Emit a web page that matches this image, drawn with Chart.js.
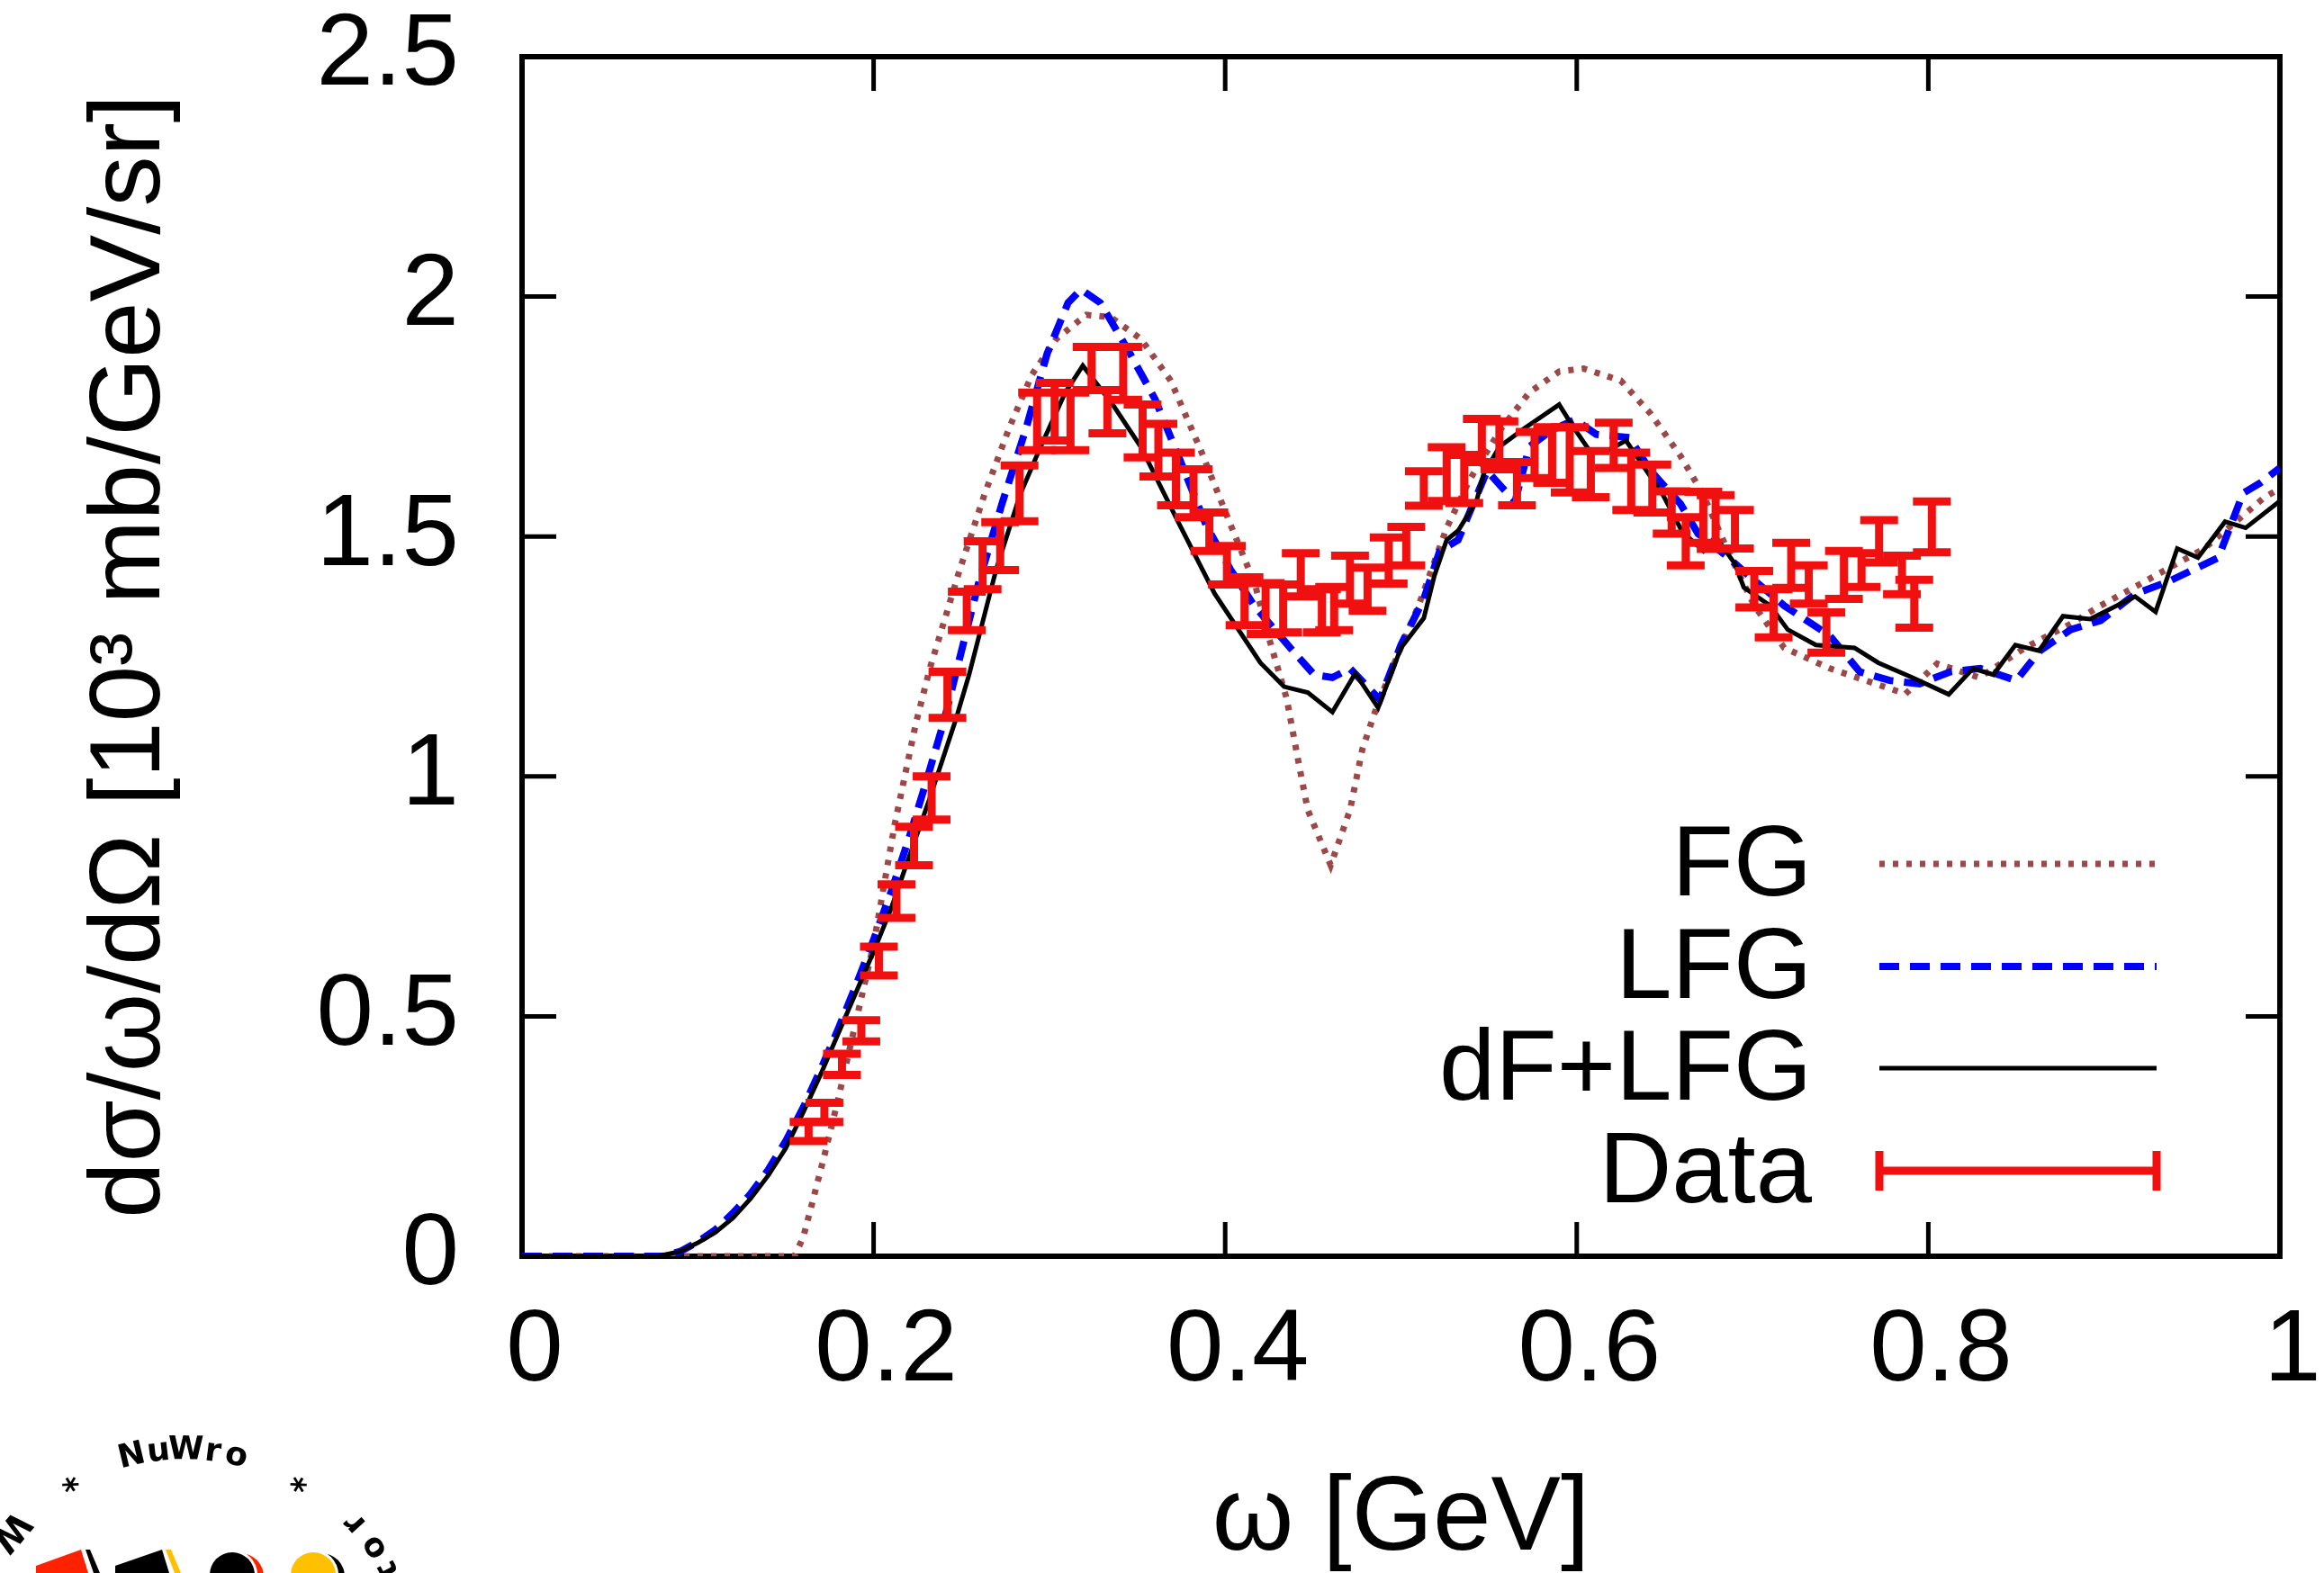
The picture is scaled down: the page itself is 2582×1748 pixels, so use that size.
<!DOCTYPE html>
<html>
<head>
<meta charset="utf-8">
<title>dσ/ω/dΩ versus ω</title>
<script src="https://cdn.jsdelivr.net/npm/chart.js@4.4.1/dist/chart.umd.min.js"></script>
<style>
    html, body { margin: 0; padding: 0; background: #fff; }
    #wrap { width: 2582px; height: 1748px; position: relative; }
</style>
</head>
<body>
<div id="wrap"><canvas id="spectrumChart"></canvas></div>
<script>
// Axis ticks
const xTickValues = [0, 0.2, 0.4, 0.6, 0.8, 1];
const xTickLabels = ['0', '0.2', '0.4', '0.6', '0.8', '1'];
const yTickValues = [0, 0.5, 1, 1.5, 2, 2.5];
const yTickLabels = ['0', '0.5', '1', '1.5', '2', '2.5'];

// FG curve
const fgX = [0, 0.155, 0.16, 0.165, 0.172, 0.18, 0.19, 0.2, 0.212, 0.224, 0.232, 0.249, 0.263, 0.277, 0.29,
    0.304, 0.321, 0.335, 0.352, 0.369, 0.386, 0.403, 0.417, 0.425, 0.435, 0.442, 0.447, 0.46, 0.471, 0.478,
    0.486, 0.497, 0.51, 0.526, 0.539, 0.557, 0.573, 0.59, 0.604, 0.625, 0.642, 0.659, 0.672, 0.686, 0.701,
    0.718, 0.744, 0.77, 0.787, 0.805, 0.829, 0.855, 0.881, 0.898, 0.92, 0.957, 0.991, 1.0];
const fgY = [0, 0, 0.04, 0.11, 0.21, 0.33, 0.49, 0.65, 0.9, 1.11, 1.225, 1.431, 1.587, 1.725, 1.837,
    1.912, 1.962, 1.957, 1.912, 1.825, 1.681, 1.525, 1.4, 1.287, 1.162, 1.024, 0.93, 0.815, 0.93, 1.056,
    1.143, 1.243, 1.356, 1.518, 1.618, 1.725, 1.8, 1.844, 1.85, 1.825, 1.756, 1.668, 1.587, 1.47, 1.356,
    1.268, 1.225, 1.193, 1.172, 1.235, 1.206, 1.268, 1.318, 1.356, 1.4, 1.475, 1.581, 1.6];

// LFG curve
const lfgX = [0, 0.08, 0.09, 0.1, 0.11, 0.12, 0.13, 0.14, 0.15, 0.16, 0.17, 0.18, 0.19, 0.2, 0.21, 0.22,
    0.23, 0.24, 0.2475, 0.2595, 0.273, 0.2867, 0.2987, 0.3106, 0.318, 0.329, 0.345, 0.36, 0.374, 0.389,
    0.403, 0.4165, 0.437, 0.4506, 0.461, 0.471, 0.488, 0.5, 0.513, 0.522, 0.5325, 0.549, 0.558, 0.565,
    0.573, 0.585, 0.599, 0.611, 0.63, 0.642, 0.659, 0.669, 0.685, 0.698, 0.718, 0.744, 0.761, 0.778,
    0.795, 0.8125, 0.8295, 0.85, 0.8635, 0.881, 0.898, 0.918, 0.9365, 0.965, 0.979, 0.989, 1.0];
const lfgY = [0, 0, 0.01, 0.03, 0.055, 0.09, 0.13, 0.18, 0.24, 0.31, 0.39, 0.475, 0.565, 0.66, 0.76, 0.87,
    0.99, 1.115, 1.225, 1.4, 1.568, 1.725, 1.881, 1.987, 2.015, 1.987, 1.887, 1.787, 1.662, 1.525,
    1.431, 1.356, 1.268, 1.212, 1.206, 1.225, 1.16, 1.274, 1.37, 1.469, 1.493, 1.637, 1.6, 1.574,
    1.687, 1.72, 1.744, 1.713, 1.706, 1.637, 1.568, 1.506, 1.46, 1.418, 1.356, 1.293, 1.218, 1.2,
    1.193, 1.218, 1.225, 1.2, 1.262, 1.306, 1.325, 1.381, 1.406, 1.456, 1.59, 1.612, 1.643];

// dF+LFG curve
const dfX = [0, 0.077, 0.09, 0.1, 0.11, 0.12, 0.13, 0.14, 0.15, 0.16, 0.17, 0.18, 0.19, 0.2, 0.21, 0.22,
    0.232, 0.2467, 0.2543, 0.2697, 0.2833, 0.295, 0.309, 0.319, 0.336, 0.352, 0.374, 0.394, 0.42, 0.4335,
    0.447, 0.461, 0.474, 0.487, 0.5, 0.513, 0.519, 0.526, 0.5325, 0.543, 0.547, 0.556, 0.57, 0.59, 0.5975,
    0.608, 0.618, 0.628, 0.649, 0.66, 0.672, 0.679, 0.69, 0.695, 0.71, 0.72, 0.736, 0.758, 0.7715, 0.791,
    0.8116, 0.8254, 0.837, 0.8495, 0.863, 0.8766, 0.892, 0.9176, 0.9293, 0.9416, 0.9534, 0.9688, 0.9805, 1.0];
const dfY = [0, 0, 0.01, 0.028, 0.05, 0.08, 0.12, 0.168, 0.225, 0.3, 0.38, 0.465, 0.55, 0.635, 0.725, 0.83,
    0.955, 1.118, 1.212, 1.431, 1.587, 1.687, 1.8, 1.856, 1.775, 1.687, 1.525, 1.381, 1.237, 1.187,
    1.175, 1.134, 1.215, 1.143, 1.268, 1.33, 1.418, 1.493, 1.512, 1.574, 1.63, 1.687, 1.725, 1.775, 1.731,
    1.675, 1.68, 1.7, 1.587, 1.51, 1.47, 1.5, 1.443, 1.394, 1.356, 1.306, 1.274, 1.268, 1.237, 1.206,
    1.171, 1.225, 1.212, 1.274, 1.262, 1.334, 1.328, 1.375, 1.343, 1.475, 1.456, 1.531, 1.518, 1.574];

// Measured data with errors
const dataX = [0.163, 0.172, 0.182, 0.193, 0.203, 0.213, 0.223, 0.233, 0.242, 0.253, 0.262, 0.272, 0.283,
    0.293, 0.303, 0.312, 0.324, 0.333, 0.342, 0.353, 0.362, 0.372, 0.382, 0.391, 0.401, 0.411, 0.423,
    0.433, 0.443, 0.455, 0.462, 0.471, 0.481, 0.493, 0.503, 0.513, 0.526, 0.536, 0.546, 0.556, 0.566,
    0.576, 0.586, 0.596, 0.608, 0.621, 0.631, 0.643, 0.654, 0.662, 0.672, 0.679, 0.69, 0.701, 0.712,
    0.722, 0.732, 0.742, 0.752, 0.762, 0.772, 0.785, 0.792, 0.802];
const dataY = [0.26, 0.3, 0.4, 0.47, 0.615, 0.74, 0.855, 0.955, 1.17, 1.345, 1.44, 1.48, 1.59,
    1.74, 1.76, 1.74, 1.85, 1.76, 1.84, 1.72, 1.68, 1.62, 1.59, 1.51, 1.44, 1.365, 1.35,
    1.35, 1.42, 1.345, 1.35, 1.41, 1.39, 1.45, 1.48, 1.6, 1.63, 1.62, 1.7, 1.69, 1.61,
    1.67, 1.67, 1.66, 1.63, 1.69, 1.615, 1.6, 1.55, 1.49, 1.54, 1.53, 1.515, 1.39, 1.34,
    1.44, 1.4, 1.3, 1.42, 1.43, 1.49, 1.42, 1.36, 1.52];
const dataErr = [0.02, 0.02, 0.022, 0.022, 0.03, 0.035, 0.04, 0.045, 0.048, 0.04, 0.05, 0.05, 0.058,
    0.06, 0.06, 0.06, 0.045, 0.045, 0.055, 0.055, 0.055, 0.055, 0.05, 0.04, 0.04, 0.05, 0.053,
    0.05, 0.045, 0.045, 0.045, 0.05, 0.045, 0.048, 0.04, 0.036, 0.056, 0.05, 0.045, 0.05, 0.045,
    0.048, 0.058, 0.068, 0.048, 0.047, 0.06, 0.05, 0.044, 0.05, 0.053, 0.056, 0.04, 0.038, 0.05,
    0.047, 0.04, 0.042, 0.05, 0.035, 0.044, 0.04, 0.05, 0.053];

const FONT = '"Liberation Sans", Arial, Helvetica, sans-serif';
const TICK_LEN = 38;
const CAP_HALF = 21;

function toPoints(xs, ys) {
    return xs.map((x, i) => ({ x: x, y: ys[i] }));
}

// Border box and inward ticks on all four sides, like gnuplot
const framePlugin = {
    id: 'frame',
    beforeDatasetsDraw(chart) {
        const { ctx, chartArea: a, scales: { x, y } } = chart;
        ctx.save();
        ctx.strokeStyle = '#000';
        ctx.lineWidth = 5;
        ctx.beginPath();
        xTickValues.slice(1, -1).forEach(v => {
            const px = x.getPixelForValue(v);
            ctx.moveTo(px, a.bottom); ctx.lineTo(px, a.bottom - TICK_LEN);
            ctx.moveTo(px, a.top); ctx.lineTo(px, a.top + TICK_LEN);
        });
        yTickValues.slice(1, -1).forEach(v => {
            const py = y.getPixelForValue(v);
            ctx.moveTo(a.left, py); ctx.lineTo(a.left + TICK_LEN, py);
            ctx.moveTo(a.right, py); ctx.lineTo(a.right - TICK_LEN, py);
        });
        ctx.stroke();
        ctx.lineWidth = 6;
        ctx.strokeRect(a.left, a.top, a.right - a.left, a.bottom - a.top);
        ctx.restore();
    }
};

// Vertical error bars with caps
const errorBarPlugin = {
    id: 'errorBars',
    afterDatasetsDraw(chart) {
        const { ctx, chartArea: a, scales: { x, y } } = chart;
        chart.data.datasets.forEach(ds => {
            if (!ds.errors) return;
            ctx.save();
            ctx.beginPath();
            ctx.rect(a.left, a.top, a.right - a.left, a.bottom - a.top);
            ctx.clip();
            ctx.strokeStyle = ds.borderColor;
            ctx.lineWidth = ds.borderWidth;
            ds.data.forEach((p, j) => {
                const px = x.getPixelForValue(p.x);
                const lo = y.getPixelForValue(p.y - ds.errors[j]);
                const hi = y.getPixelForValue(p.y + ds.errors[j]);
                ctx.beginPath();
                ctx.moveTo(px, lo); ctx.lineTo(px, hi);
                ctx.moveTo(px - CAP_HALF, lo); ctx.lineTo(px + CAP_HALF, lo);
                ctx.moveTo(px - CAP_HALF, hi); ctx.lineTo(px + CAP_HALF, hi);
                ctx.stroke();
            });
            ctx.restore();
        });
    }
};

// Key in the lower right corner of the plot
const keyPlugin = {
    id: 'key',
    afterDraw(chart) {
        const { ctx, chartArea: a } = chart;
        const textRight = a.right - 520;
        const x0 = a.right - 445;
        const x1 = a.right - 137;
        const rowsY = [a.bottom - 436, a.bottom - 322, a.bottom - 209, a.bottom - 95];
        ctx.save();
        ctx.font = '112px ' + FONT;
        ctx.fillStyle = '#000';
        ctx.textAlign = 'right';
        ctx.textBaseline = 'middle';
        chart.data.datasets.slice().reverse().forEach((ds, i) => {
            const yy = rowsY[i];
            ctx.fillText(ds.label, textRight, yy + 4);
            ctx.strokeStyle = ds.borderColor;
            ctx.lineWidth = ds.borderWidth;
            ctx.setLineDash(ds.borderDash || []);
            ctx.beginPath();
            ctx.moveTo(x0, yy); ctx.lineTo(x1, yy);
            ctx.stroke();
            ctx.setLineDash([]);
            if (ds.errors) {
                ctx.beginPath();
                ctx.moveTo(x0, yy - 22); ctx.lineTo(x0, yy + 22);
                ctx.moveTo(x1, yy - 22); ctx.lineTo(x1, yy + 22);
                ctx.stroke();
            }
        });
        ctx.restore();
    }
};

// NuWro badge in the lower left corner
function arcGlyph(ctx, ch, cx, cy, r, deg, inward) {
    const t = deg * Math.PI / 180;
    ctx.save();
    ctx.translate(cx + r * Math.sin(t), cy - r * Math.cos(t));
    ctx.rotate(inward ? t + Math.PI : t);
    ctx.fillText(ch, 0, 0);
    ctx.restore();
}

const badgePlugin = {
    id: 'badge',
    afterDraw(chart) {
        const ctx = chart.ctx;
        const cx = 205, cy = 1864;
        ctx.save();
        ctx.fillStyle = '#000';
        ctx.font = 'bold 36px "DejaVu Sans"';
        ctx.textAlign = 'center';
        ctx.textBaseline = 'middle';
        const top = 'NuWro';
        const step = [-13.4, -6.6, 0.4, 7.2, 13.2];
        for (let i = 0; i < top.length; i++) {
            arcGlyph(ctx, top[i], cx, cy, 252, step[i], false);
        }
        arcGlyph(ctx, '*', cx, cy, 240, -30.6, false);
        arcGlyph(ctx, '*', cx, cy, 240, 30.6, false);
        ctx.font = 'bold 40px "DejaVu Sans"';
        arcGlyph(ctx, 'W', cx, cy, 254, -50, true);
        ctx.font = 'bold 36px "DejaVu Sans"';
        arcGlyph(ctx, 'r', cx, cy, 256, 47.9, true);
        arcGlyph(ctx, 'o', cx, cy, 256, 55.6, true);
        arcGlyph(ctx, 't', cx, cy, 256, 62.2, true);

        // coloured pieces peeking over the bottom edge
        const poly = (pts, color) => {
            ctx.fillStyle = color;
            ctx.beginPath();
            ctx.moveTo(pts[0][0], pts[0][1]);
            pts.slice(1).forEach(p => ctx.lineTo(p[0], p[1]));
            ctx.closePath();
            ctx.fill();
        };
        poly([[40, 1740], [90, 1722], [98, 1748], [40, 1748]], '#ff2200');
        poly([[95, 1722], [100, 1722], [111, 1748], [104, 1748]], '#000');
        poly([[128, 1740], [180, 1722], [188, 1748], [128, 1748]], '#000');
        poly([[184, 1722], [190, 1722], [201, 1748], [194, 1748]], '#ffc000');
        const disc = (x, y, r, color) => {
            ctx.fillStyle = color;
            ctx.beginPath();
            ctx.arc(x, y, r, 0, Math.PI * 2);
            ctx.fill();
        };
        disc(267, 1752, 26, '#ff2200');
        disc(258, 1750, 28, '#fff');
        disc(258, 1750, 25, '#000');
        disc(357, 1752, 26, '#000');
        disc(348, 1750, 28, '#fff');
        disc(348, 1750, 25, '#ffc000');
        ctx.restore();
    }
};

document.addEventListener('DOMContentLoaded', function() {
    const ctx = document.getElementById('spectrumChart').getContext('2d');

    new Chart(ctx, {
        type: 'scatter',
        data: {
            datasets: [
                {
                    label: 'Data',
                    data: toPoints(dataX, dataY),
                    errors: dataErr,
                    borderColor: '#f01010',
                    borderWidth: 9,
                    showLine: false,
                    pointRadius: 0,
                    order: 0
                },
                {
                    label: 'dF+LFG',
                    data: toPoints(dfX, dfY),
                    borderColor: '#000000',
                    borderWidth: 5,
                    showLine: true,
                    pointRadius: 0,
                    tension: 0,
                    order: 1
                },
                {
                    label: 'LFG',
                    data: toPoints(lfgX, lfgY),
                    borderColor: '#0000ff',
                    borderWidth: 8,
                    borderDash: [22, 12],
                    showLine: true,
                    pointRadius: 0,
                    tension: 0,
                    order: 2
                },
                {
                    label: 'FG',
                    data: toPoints(fgX, fgY),
                    borderColor: '#9c4848',
                    borderWidth: 7,
                    borderDash: [6, 9],
                    showLine: true,
                    pointRadius: 0,
                    tension: 0,
                    order: 3
                }
            ]
        },
        options: {
            responsive: true,
            maintainAspectRatio: false,
            devicePixelRatio: 1,
            animation: false,
            events: [],
            layout: { padding: { left: 0, right: 49, top: 63, bottom: 0 } },
            plugins: {
                legend: { display: false },
                tooltip: { enabled: false }
            },
            scales: {
                x: {
                    type: 'linear',
                    min: 0,
                    max: 1,
                    afterBuildTicks: scale => { scale.ticks = xTickValues.map(v => ({ value: v })); },
                    afterFit: scale => { scale.height = 352; },
                    // invisible tick marks only set the gap between axis and labels
                    grid: { display: false, drawTicks: true, tickLength: 50 },
                    border: { display: false },
                    ticks: {
                        padding: 0,
                        labelOffset: 14,
                        maxRotation: 0,
                        autoSkip: false,
                        color: '#000',
                        font: { family: FONT, size: 114, lineHeight: 1 },
                        callback: (value, index) => xTickLabels[index]
                    },
                    title: {
                        display: true,
                        text: 'ω [GeV]',
                        color: '#000',
                        font: { family: FONT, size: 116, lineHeight: 1 },
                        padding: { top: 0, bottom: 0 }
                    }
                },
                y: {
                    type: 'linear',
                    min: 0,
                    max: 2.5,
                    afterBuildTicks: scale => { scale.ticks = yTickValues.map(v => ({ value: v })); },
                    afterFit: scale => { scale.width = 580; },
                    grid: { display: false, drawTicks: true, tickLength: 70 },
                    border: { display: false },
                    ticks: {
                        padding: 0,
                        autoSkip: false,
                        color: '#000',
                        font: { family: FONT, size: 114, lineHeight: 1 },
                        callback: (value, index) => yTickLabels[index]
                    },
                    title: {
                        display: true,
                        text: 'dσ/ω/dΩ [10³ mb/GeV/sr]',
                        color: '#000',
                        font: { family: FONT, size: 112, lineHeight: 1 },
                        padding: { top: 90, bottom: 0 }
                    }
                }
            }
        },
        plugins: [framePlugin, errorBarPlugin, keyPlugin, badgePlugin]
    });
});
</script>
</body>
</html>
